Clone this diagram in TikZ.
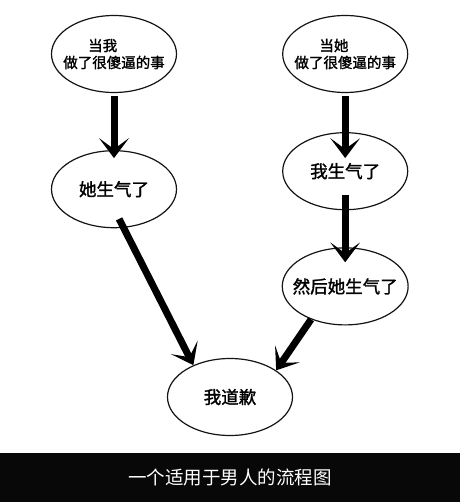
\documentclass[tikz,border=0pt]{standalone}
\usepackage{fontspec}
\newfontfamily\cjk[FakeBold=1.6]{Noto Sans CJK SC}
\newfontfamily\cjkcap{Noto Sans CJK SC}
\usetikzlibrary{shapes.geometric, arrows.meta, positioning}
\definecolor{BarFill}{RGB}{8,8,8}
\definecolor{LineGray}{RGB}{20,20,20}
\tikzset{
  % Oval step of the flow
  bubble/.style={
    ellipse, draw=LineGray, fill=white, line width=1.2pt,
    minimum width=125pt, minimum height=77pt,
    inner xsep=-8pt, inner ysep=0pt,
    align=center, font=\cjk\fontsize{17.5}{20}\selectfont
  },
  % Two-line oval on top
  smalltxt/.style={align=left, font=\cjk\fontsize{14.5}{17}\selectfont},
  arr/.style={
    -{Stealth[length=20pt, width=30pt, inset=11pt, line width=0pt]},
    line width=7pt, black
  }
}

\begin{document}
\begin{tikzpicture}[x=1pt, y=-1pt]
  \useasboundingbox[fill=white] (0,0) rectangle (460,502);

  %% ── Left column ────────────────────────────────────────────────────────
  \node[bubble, smalltxt] (meDumb) at (114,54)
    {\hspace*{25pt}当我\\做了很傻逼的事};
  \node[bubble, below=57pt of meDumb] (sheMad) {她生气了};

  %% ── Right column ───────────────────────────────────────────────────────
  \node[bubble, smalltxt, right=105pt of meDumb] (sheDumb)
    {\hspace*{25pt}当她\\做了很傻逼的事};
  \node[bubble, below=39pt of sheDumb] (meMad) {我生气了};
  \node[bubble, below=37pt of meMad] (thenSheMad) {然后她生气了};

  %% ── Shared end ─────────────────────────────────────────────────────────
  \node[bubble] (sorry) at (230,397) {我道歉};

  \draw[arr, shorten <=3pt, shorten >=-8pt] (meDumb) -- (sheMad);
  \draw[arr, shorten <=3pt, shorten >=-26pt] (sheDumb) -- (meMad);
  \draw[arr, shorten <=-15pt, shorten >=-15pt] (meMad) -- (thenSheMad);
  \draw[arr, shorten <=-10pt] (sheMad.-76) -- (sorry.139);
  \draw[arr] (thenSheMad.-136) -- (sorry.30);

  %% ── Caption bar ────────────────────────────────────────────────────────
  \node[fill=BarFill, minimum width=460pt, minimum height=49pt, inner sep=0pt,
        text=white, font=\cjkcap\fontsize{18.5}{20}\selectfont]
    (caption) at (230,477.5) {一个适用于男人的流程图};
\end{tikzpicture}
\end{document}
